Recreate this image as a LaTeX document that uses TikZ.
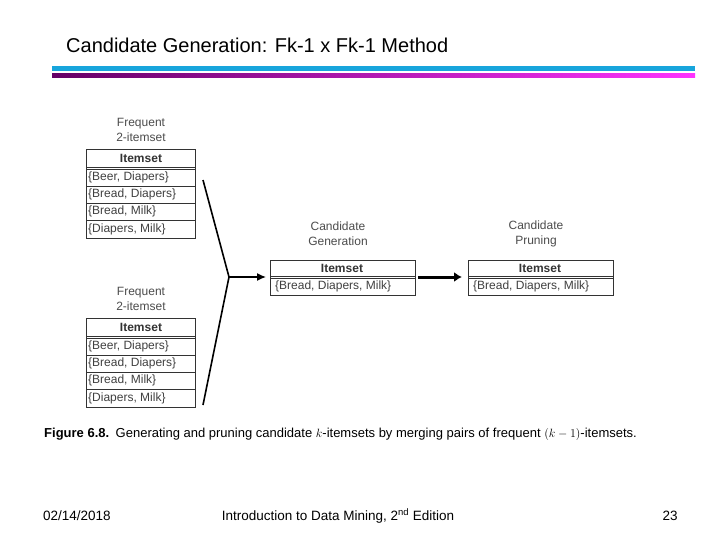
\documentclass[tikz,border=0pt]{standalone}
\usetikzlibrary{arrows.meta}
\usepackage{fontspec}
\setmainfont{Liberation Sans}
\begin{document}
\begin{tikzpicture}[x=1pt,y=-1pt,
  lab/.style={font=\fontsize{12}{15}\selectfont,text=black!70,align=center},
  cell/.style={font=\fontsize{12}{14}\selectfont,text=black!75,anchor=west,inner sep=2pt},
  hd/.style={font=\fontsize{12}{14}\selectfont\bfseries,text=black!80,inner sep=0pt},
  tb/.style={draw=black!80,line width=0.8pt}]
\useasboundingbox (0,0) rectangle (720,540);
\fill[white] (0,0) rectangle (720,540);
\node[anchor=west,font=\fontsize{20}{24}\selectfont,inner sep=0pt] (title) at (66,45) {Candidate Generation: Fk-1 x Fk-1 Method};
\fill[cyan!80!teal] (52,66) rectangle (695,71);
\shade[left color=violet!80!black,right color=magenta!80] (52,74) rectangle (695,78);
% left tables
\foreach \t/\y in {a/149,b/318}{
  \node[lab] (\t lab) at (141,\y-19) {Frequent\\2-itemset};
  \draw[tb] (86,\y) rectangle (195,\y+89);
  \draw[tb] (86,\y+18) -- (195,\y+18);
  \draw[tb] (86,\y+20) -- (195,\y+20);
  \foreach \d in {37,54,71} \draw[tb] (86,\y+\d) -- (195,\y+\d);
  \node[hd] (\t h) at (141,\y+9) {Itemset};
  \node[cell] (\t 1) at (86,\y+28.5) {\{Beer, Diapers\}};
  \node[cell] (\t 2) at (86,\y+45.5) {\{Bread, Diapers\}};
  \node[cell] (\t 3) at (86,\y+62.5) {\{Bread, Milk\}};
  \node[cell] (\t 4) at (86,\y+80) {\{Diapers, Milk\}};
}
% middle and right
\node[lab] (clab) at (338,234) {Candidate\\Generation};
\node[lab] (dlab) at (536,234) {Candidate\\Pruning\vphantom{g}};
\foreach \t/\x in {c/270,d/468}{
  \draw[tb] (\x,260) rectangle (\x+145,295);
  \draw[tb] (\x,276) -- (\x+145,276);
  \draw[tb] (\x,278) -- (\x+145,278);
  \node[hd] (\t h) at (\x+72,268) {Itemset};
  \node[cell] (\t 1) at (\x+3,286.5) {\{Bread, Diapers, Milk\}};
}
\coordinate (ja) at (203,180);
\coordinate (jb) at (203,405);
\coordinate (m) at (229,277);
\coordinate (ce) at (266,277);
\coordinate (cs) at (418,277);
\coordinate (de) at (462,277);
\draw[line width=1.6pt] (ja) -- (m) -- (jb);
\draw[line width=1.4pt,-{Latex[length=9pt,width=8pt]}] (m) -- (ce);
\draw[line width=3pt,-{Latex[length=8pt,width=10pt]}] (cs) -- (de);
\node[anchor=west,font=\fontsize{13}{15}\selectfont,inner sep=0pt] (cap) at (44,434)
 {\textbf{Figure 6.8.}\enspace Generating and pruning candidate $k$-itemsets by merging pairs of frequent $(k-1)$-itemsets.};
\node[anchor=west,font=\fontsize{13.5}{15}\selectfont,inner sep=0pt] (date) at (43,516) {02/14/2018};
\node[font=\fontsize{13.5}{15}\selectfont,inner sep=0pt] (mid) at (338,516) {Introduction to Data Mining, 2\textsuperscript{nd} Edition};
\node[font=\fontsize{13.5}{15}\selectfont,inner sep=0pt] (pg) at (670,516) {23};
\end{tikzpicture}
\end{document}
